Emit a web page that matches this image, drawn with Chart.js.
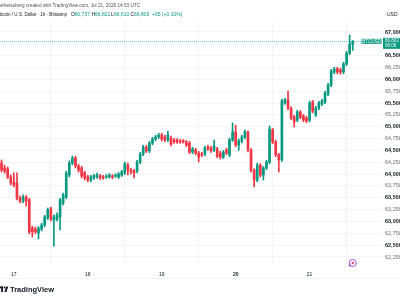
<!DOCTYPE html>
<html>
<head>
<meta charset="utf-8">
<script src="https://cdn.jsdelivr.net/npm/chart.js@4.4.1/dist/chart.umd.min.js"></script>
<style>
  html, body { margin: 0; padding: 0; background: #fff; }
  #wrap { width: 400px; height: 300px; position: relative; overflow: hidden; }
</style>
</head>
<body>
<div id="wrap"><canvas id="chart" width="400" height="300"></canvas></div>
<script>
// BTCUSD 1h candles, 16 Jul 20:00 -> 21 Jul 14:00 (UTC)
const firstDay = 16;
const firstHour = 20;
const slotCount = 124; // candles + empty space on the right

const opens = [
  64235, 64130, 64110, 63940, 63835, 63810, 63495, 63430, 63515, 63455,
  62860, 62840, 62755, 62840, 62925, 63075, 63265, 63030, 63050, 63095,
  63390, 63515, 63980, 64235, 64340, 64170, 64130, 64025, 63940, 63875,
  63920, 63940, 63960, 63940, 63940, 63940, 63960, 63960, 63940, 63980,
  64025, 64190, 64085, 64065, 64065, 64255, 64425, 64570, 64490, 64655,
  64740, 64785, 64825, 64785, 64720, 64760, 64720, 64720, 64700, 64700,
  64680, 64655, 64465, 64510, 64445, 64425, 64425, 64570, 64550, 64510,
  64530, 64445, 64360, 64510, 64405, 64720, 64890, 64615, 64700, 64785,
  64890, 64510, 64085, 63875, 64190, 63980, 64130, 64255, 64930, 64680,
  64405, 64300, 65500, 65565, 65395, 65205, 65140, 65310, 65225, 65185,
  65140, 65520, 65250, 65395, 65480, 65520, 65690, 65880, 66155, 66220,
  66200, 66155, 66325, 66555, 66737
];
const highs = [
  64300, 64190, 64150, 63985, 64025, 64025, 63540, 63560, 63550, 63490,
  62900, 62885, 62890, 62965, 63130, 63285, 63305, 63140, 63180, 63490,
  63600, 64060, 64280, 64380, 64375, 64210, 64165, 64060, 63975, 63975,
  63995, 64020, 63995, 63975, 63990, 64010, 63990, 64010, 64035, 64080,
  64255, 64230, 64120, 64100, 64290, 64460, 64610, 64605, 64690, 64775,
  64820, 64860, 64865, 64820, 64910, 64800, 64755, 64750, 64735, 64730,
  64710, 64690, 64565, 64545, 64480, 64460, 64585, 64605, 64585, 64720,
  64565, 64480, 64500, 64545, 64760, 65080, 65035, 64740, 64820, 64930,
  64910, 64540, 64110, 64230, 64220, 64160, 64290, 65015, 64965, 64715,
  64440, 65580, 65600, 65755, 65420, 65240, 65345, 65340, 65260, 65220,
  65540, 65555, 65430, 65535, 65580, 65745, 65915, 66210, 66255, 66255,
  66235, 66360, 66590, 66935, 66821
];
const lows = [
  64045, 64020, 63905, 63770, 63730, 63455, 63390, 63395, 63325, 62740,
  62670, 62740, 62630, 62800, 62890, 63040, 63010, 62480, 63010, 62820,
  63350, 63480, 63940, 64195, 64130, 64040, 63920, 63880, 63835, 63840,
  63890, 63910, 63885, 63890, 63910, 63915, 63905, 63930, 63905, 63950,
  63990, 63980, 64005, 63920, 64030, 64220, 64390, 64455, 64455, 64620,
  64705, 64750, 64700, 64685, 64690, 64595, 64645, 64650, 64650, 64655,
  64580, 64430, 64430, 64410, 64255, 64370, 64390, 64500, 64455, 64475,
  64345, 64320, 64330, 64410, 64370, 64690, 64580, 64500, 64660, 64750,
  64470, 64040, 63730, 63840, 63940, 63875, 64095, 64220, 64640, 64370,
  64045, 64270, 65470, 65360, 65150, 64995, 65105, 65170, 65105, 65085,
  65105, 65295, 65215, 65360, 65445, 65485, 65655, 65845, 66120, 66120,
  66110, 66120, 66290, 66520, 66610
];
const closes = [
  64085, 64065, 63940, 63810, 63770, 63495, 63430, 63515, 63430, 62780,
  62780, 62780, 62860, 62925, 63095, 63240, 63050, 63095, 63135, 63455,
  63560, 64025, 64235, 64340, 64170, 64085, 63960, 63920, 63875, 63940,
  63960, 63980, 63920, 63920, 63960, 63980, 63940, 63980, 64000, 64045,
  64215, 64085, 64045, 64025, 64255, 64425, 64570, 64490, 64655, 64740,
  64785, 64825, 64740, 64720, 64825, 64635, 64680, 64680, 64680, 64680,
  64615, 64465, 64530, 64445, 64360, 64405, 64550, 64530, 64490, 64595,
  64380, 64360, 64465, 64445, 64720, 64890, 64615, 64700, 64785, 64890,
  64510, 64085, 63875, 64190, 63980, 64130, 64255, 64950, 64680, 64405,
  64300, 65545, 65565, 65395, 65185, 65100, 65310, 65205, 65140, 65120,
  65500, 65330, 65395, 65500, 65545, 65710, 65880, 66175, 66220, 66155,
  66155, 66325, 66555, 66745, 66803
];
const weekStartDays = [20];
const lastTimeLeft = "06:06";

const UP = "#089981";
const DOWN = "#f23645";
const TEXT = "#131722";

const candleTimes = [];
for (let i = 0; i < slotCount; i++) {
  const h = firstHour + i;
  candleTimes.push({ day: firstDay + Math.floor(h / 24), hour: h % 24 });
}
const labels = candleTimes.map(t => t.day + " " + t.hour + ":00");
const colorOf = i => (closes[i] >= opens[i] ? UP : DOWN);
const fmt = v => v.toLocaleString("en-US");

const decor = {
  id: "decor",
  beforeDatasetsDraw(chart) {
    const { ctx, chartArea, scales } = chart;
    const y = Math.round(scales.y.getPixelForValue(closes[closes.length - 1])) + 0.5;
    ctx.save();
    ctx.strokeStyle = "rgba(8,153,129,0.55)";
    ctx.lineWidth = 1;
    ctx.setLineDash([1, 1]);
    ctx.beginPath();
    ctx.moveTo(chartArea.left, y);
    ctx.lineTo(chartArea.right, y);
    ctx.stroke();
    ctx.restore();
  },
  afterDraw(chart) {
    const { ctx, scales } = chart;
    ctx.save();
    ctx.textBaseline = "middle";
    // header
    ctx.font = "5px 'Liberation Sans', Arial";
    ctx.fillStyle = "#50535e";
    ctx.fillText("arketsuberg created with TradingView.com, Jul 21, 2026 14:53 UTC", 0, 6, 140);
    ctx.fillStyle = TEXT;
    ctx.fillText("itcoin / U.S. Dollar \u00b7 1h \u00b7 Bitstamp", 0, 15, 67);
    const last = closes.length - 1;
    const parts = [
      ["O", 71, TEXT], [fmt(opens[last]), 74.5, UP],
      ["H", 91.5, TEXT], [fmt(highs[last]), 95, UP],
      ["L", 111, TEXT], [fmt(lows[last]), 114, UP],
      ["C", 130.5, TEXT], [fmt(closes[last]), 134, UP],
      ["+65 (+0.10%)", 152, UP]
    ];
    parts.forEach(([t, x, c]) => { ctx.fillStyle = c; ctx.fillText(t, x, 15); });
    ctx.fillStyle = TEXT;
    ctx.fillText("USD", 387, 15);

    // last price labels
    const py = scales.y.getPixelForValue(closes[last]);
    ctx.fillStyle = UP;
    ctx.fillRect(361.5, py - 2.5, 20, 5);
    ctx.fillRect(383, py - 3.5, 20, 11);
    ctx.fillStyle = "#fff";
    ctx.font = "4.5px 'Liberation Sans', Arial";
    ctx.textAlign = "center";
    ctx.fillText("BTCUSD", 371.5, py);
    ctx.textAlign = "left";
    ctx.fillText(fmt(closes[last]), 385, py - 0.5);
    ctx.fillText(lastTimeLeft, 385, py + 4.5);

    // time axis separator
    ctx.fillStyle = "#f0f3fa";
    ctx.fillRect(0, 278, 400, 1);

    // event marker
    const ex = scales.x.getPixelForValue(114);
    ctx.strokeStyle = "#b04cd8";
    ctx.lineWidth = 1;
    ctx.beginPath();
    ctx.arc(ex, 263, 3.5, 0, Math.PI * 2);
    ctx.stroke();
    ctx.fillStyle = "#e0467a";
    ctx.beginPath();
    ctx.arc(ex, 263, 1.2, 0, Math.PI * 2);
    ctx.fill();
    ctx.fillStyle = "#6d45d8";
    ctx.beginPath();
    ctx.arc(ex - 3, 265.5, 1, 0, Math.PI * 2);
    ctx.fill();

    // logo
    ctx.fillStyle = TEXT;
    ctx.fillRect(0, 286.5, 3, 1.8);
    ctx.fillRect(1.2, 286.5, 1.8, 5.5);
    ctx.beginPath();
    ctx.arc(4.6, 287.6, 1, 0, Math.PI * 2);
    ctx.fill();
    ctx.beginPath();
    ctx.moveTo(6.2, 286.5);
    ctx.lineTo(8.3, 286.5);
    ctx.lineTo(6.4, 292);
    ctx.lineTo(4.4, 292);
    ctx.closePath();
    ctx.fill();
    ctx.font = "bold 7.5px 'Liberation Sans', Arial";
    ctx.fillText("TradingView", 10, 289.5);
    ctx.restore();
  }
};

new Chart(document.getElementById("chart"), {
  type: "bar",
  data: {
    labels: labels,
    datasets: [
      {
        label: "body",
        data: opens.map((o, i) => [o, closes[i]]),
        backgroundColor: c => colorOf(c.dataIndex),
        borderWidth: 0,
        barThickness: 2,
        grouped: false
      },
      {
        label: "wick",
        data: lows.map((l, i) => [l, highs[i]]),
        backgroundColor: c => colorOf(c.dataIndex),
        borderWidth: 0,
        barThickness: 1,
        grouped: false
      }
    ]
  },
  options: {
    responsive: false,
    animation: false,
    devicePixelRatio: 1,
    layout: { padding: { top: 22, bottom: 22, left: 0, right: 0 } },
    plugins: { legend: { display: false }, tooltip: { enabled: false } },
    scales: {
      x: {
        type: "category",
        offset: true,
        grid: { color: "#f3f4f7", drawTicks: false },
        border: { display: false },
        afterFit: s => { s.height = 14; },
        ticks: {
          autoSkip: false,
          maxRotation: 0,
          padding: 8,
          color: TEXT,
          font: c => ({
            family: "'Liberation Sans', Arial",
            size: 5,
            weight: c.tick && weekStartDays.includes(+c.tick.label) ? "bold" : "normal"
          }),
          callback: (v, i) => (candleTimes[i].hour === 0 ? String(candleTimes[i].day) : null)
        }
      },
      y: {
        position: "right",
        min: 62102,
        max: 67211,
        grid: { color: "#f3f4f7", drawTicks: false },
        border: { display: false },
        afterFit: s => { s.width = 18; },
        ticks: {
          stepSize: 250,
          includeBounds: false,
          padding: 3,
          color: c => (c.tick && c.tick.value % 500 === 0 ? TEXT : "#6a6d78"),
          font: c => ({
            family: "'Liberation Sans', Arial",
            size: 5.5,
            weight: c.tick && c.tick.value % 500 === 0 ? "bold" : "normal"
          }),
          callback: v => fmt(v)
        }
      }
    }
  },
  plugins: [decor]
});
</script>
</body>
</html>
